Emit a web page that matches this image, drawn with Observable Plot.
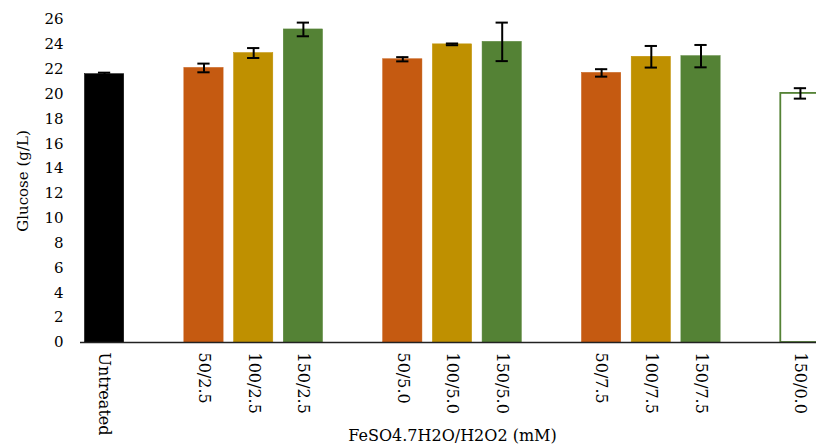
<!DOCTYPE html>
<html>
<head>
<meta charset="utf-8">
<script src="https://cdn.jsdelivr.net/npm/d3@7"></script>
<script src="https://cdn.jsdelivr.net/npm/@observablehq/plot@0.6"></script>
<style>
  html, body { margin: 0; padding: 0; background: #fff; }
  #chart svg { display: block; }
</style>
</head>
<body>
<div id="chart"></div>
<script>
// Data
const groups = [
  ["Untreated"],
  ["50/2.5", "100/2.5", "150/2.5"],
  ["50/5.0", "100/5.0", "150/5.0"],
  ["50/7.5", "100/7.5", "150/7.5"],
  ["150/0.0"]
];
const treatments = ["Untreated", "50/2.5", "100/2.5", "150/2.5", "50/5.0", "100/5.0", "150/5.0", "50/7.5", "100/7.5", "150/7.5", "150/0.0"];
const glucose   = [21.6, 22.1, 23.3, 25.2, 22.8, 24.0, 24.2, 21.7, 23.0, 23.05, 20.05];
const errors    = [0.12, 0.35, 0.4, 0.55, 0.17, 0.07, 1.55, 0.3, 0.87, 0.9, 0.42];
const doses     = ["control", "50", "100", "150", "50", "100", "150", "50", "100", "150", "150-open"];
const yTicks = d3.range(0, 27, 2);

const doseFill = {"control": "#000000", "50": "#C55A11", "100": "#BF9000", "150": "#548235", "150-open": "#ffffff"};
const doseStroke = {"control": "#000000", "50": "#C55A11", "100": "#BF9000", "150": "#548235", "150-open": "#548235"};

// Band domain with empty gap slots between groups
const domain = [];
groups.forEach((g, i) => {
  if (i > 0) domain.push("gap" + i);
  domain.push(...g);
});

const data = treatments.map((t, i) => ({
  t, v: glucose[i], e: errors[i], dose: doses[i],
  fill: doseFill[doses[i]], stroke: doseStroke[doses[i]]
}));

const font = "'DejaVu Serif', serif";

const chart = Plot.plot({
  width: 816,
  height: 445,
  marginTop: 19,
  marginBottom: 103,
  marginLeft: 74,
  marginRight: -14,
  style: {fontFamily: font, fontSize: "15px", color: "#000", background: "#fff", overflow: "hidden"},
  x: {type: "band", domain, padding: 0.21, round: false},
  y: {domain: [0, 26]},
  marks: [
    Plot.barY(data, {x: "t", y: "v", fill: "fill", stroke: "stroke", strokeWidth: d => d.dose === "150-open" ? 1.8 : 0.5}),
    Plot.ruleX(data, {x: "t", y1: d => d.v - d.e, y2: d => d.v + d.e, stroke: "#000", strokeWidth: 2}),
    Plot.tickY(data, {x: "t", y: d => d.v - d.e, stroke: "#000", strokeWidth: 2, insetLeft: 13.5, insetRight: 13.5}),
    Plot.tickY(data, {x: "t", y: d => d.v + d.e, stroke: "#000", strokeWidth: 2, insetLeft: 13.5, insetRight: 13.5}),
    Plot.ruleY([0], {stroke: "#222", strokeWidth: 1.5, insetLeft: 6}),
    Plot.axisY({ticks: yTicks, tickSize: 0, tickPadding: 11, fontSize: 15,
      label: "Glucose (g/L)", labelAnchor: "center", labelArrow: "none", labelOffset: 57}),
    Plot.axisX({tickSize: 0, tickPadding: 10, tickRotate: 90, fontSize: 16,
      tickFormat: d => d.startsWith("gap") ? "" : d,
      label: "FeSO4.7H2O/H2O2 (mM)", labelAnchor: "center", labelArrow: "none", labelOffset: 98})
  ]
});

document.getElementById("chart").appendChild(chart);
</script>
</body>
</html>
